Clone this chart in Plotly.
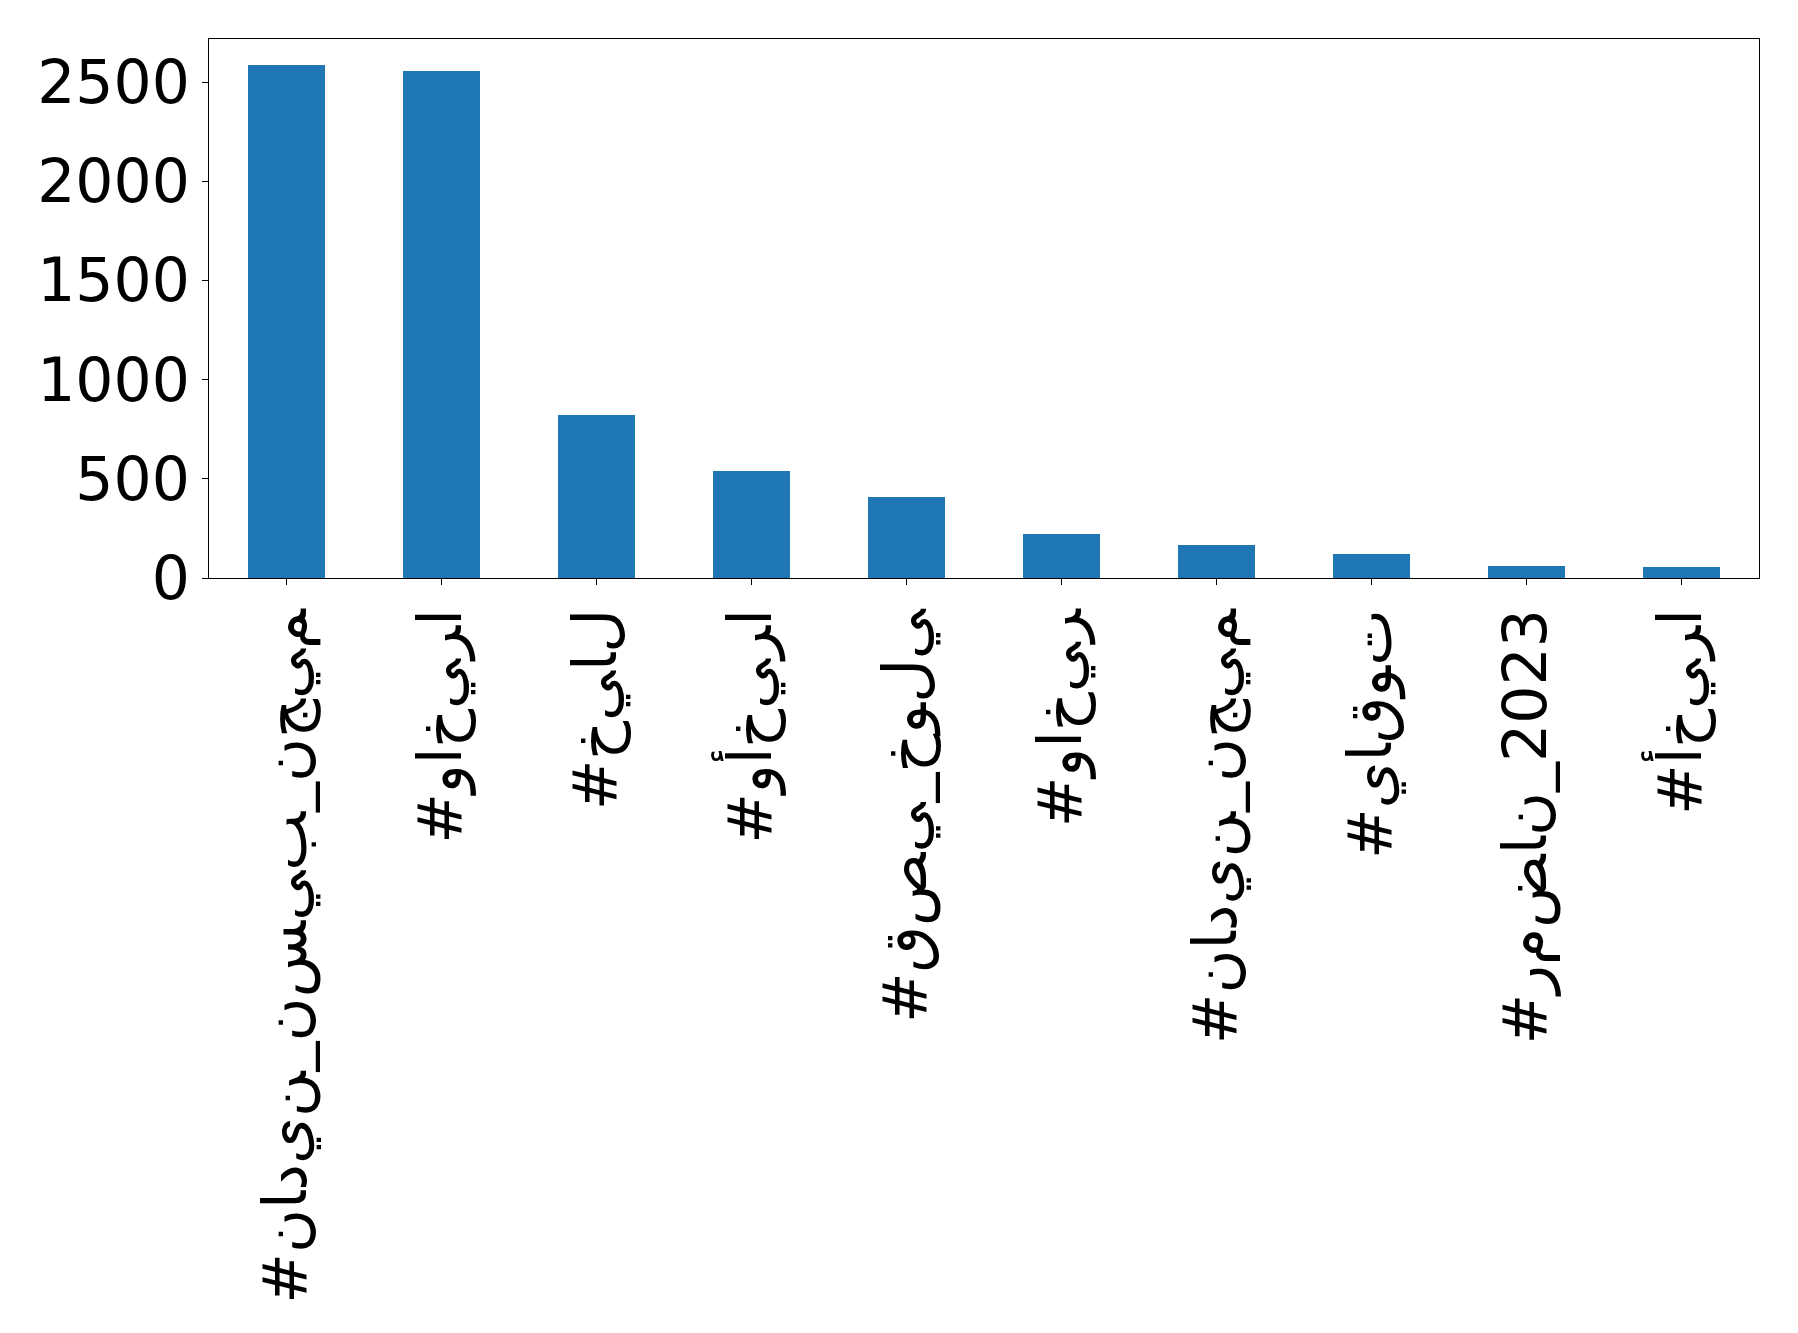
import plotly.graph_objects as go

categories = [
    "#نادين_نسيب_نجيم",
    "#واخيرا",
    "#خيال",
    "#وأخيرا",
    "#قصي_خولي",
    "#واخير",
    "#نادين_نجيم",
    "#ياقوت",
    "#رمضان_2023",
    "#أخيرا",
]
counts = [2588, 2558, 824, 540, 408, 220, 164, 123, 63, 57]
y_ticks = [0, 500, 1000, 1500, 2000, 2500]


def unshaped(label):
    # letters kept separate and laid out left to right, as in the source image
    return "\u202D" + "\u200C".join(label) + "\u202C"


fig = go.Figure(
    go.Bar(
        x=list(range(len(categories))),
        y=counts,
        width=0.5,
        marker=dict(color="#1f77b4", line=dict(width=0)),
        hovertext=categories,
    )
)

font_family = "DejaVu Sans, Liberation Sans, sans-serif"

fig.update_layout(
    width=1782,
    height=1317,
    margin=dict(l=201, r=31, t=31, b=747, pad=0),
    paper_bgcolor="white",
    plot_bgcolor="white",
    showlegend=False,
    bargap=0,
    font=dict(family=font_family, color="black", size=60),
)

fig.update_xaxes(
    range=[-0.5, len(categories) - 0.5],
    tickmode="array",
    tickvals=list(range(len(categories))),
    ticktext=[unshaped(c) for c in categories],
    tickangle=-90,
    tickfont=dict(family=font_family, size=60, color="black"),
    ticks="outside",
    ticklen=6,
    tickwidth=1.3,
    tickcolor="black",
    showline=True,
    linecolor="black",
    linewidth=1.3,
    mirror=True,
    showgrid=False,
    zeroline=False,
    automargin=False,
)

fig.update_yaxes(
    range=[0, max(counts) * 1.05],
    tickmode="array",
    tickvals=y_ticks,
    ticktext=[str(v) for v in y_ticks],
    tickfont=dict(family=font_family, size=60, color="black"),
    ticks="outside",
    ticklen=6,
    tickwidth=1.3,
    tickcolor="black",
    showline=True,
    linecolor="black",
    linewidth=1.3,
    mirror=True,
    showgrid=False,
    zeroline=False,
    automargin=False,
)

fig.write_html("out.html")
